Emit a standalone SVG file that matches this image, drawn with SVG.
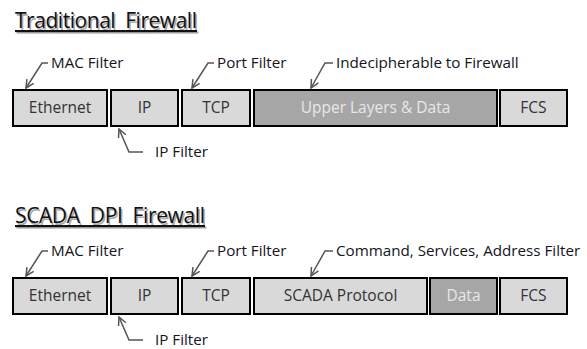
<svg xmlns="http://www.w3.org/2000/svg" width="587" height="349" viewBox="0 0 587 349">
<defs>
<style>
.title{font-family:"Open Sans","Noto Sans",sans-serif;font-size:21px;fill:#111;text-decoration:underline}
.shadow{font-family:"Open Sans","Noto Sans",sans-serif;font-size:21px;fill:#aaa;text-decoration:underline}
.box{stroke:#000;stroke-width:2}
.light{fill:#d9d9d9}
.dark{fill:#a6a6a6}
.bt{font-family:"Open Sans","Noto Sans",sans-serif;font-size:15.5px;fill:#333;text-anchor:middle}
.btl{font-family:"Open Sans","Noto Sans",sans-serif;font-size:15.5px;fill:#e8e8e8;text-anchor:middle}
.lbl{font-family:"Open Sans","Noto Sans",sans-serif;font-size:15.2px;fill:#141422}
.lead{fill:none;stroke:#555;stroke-width:1.5;marker-end:url(#arr)}
</style>
<marker id="arr" viewBox="0 0 10 10" refX="9" refY="5" markerWidth="10" markerHeight="10" markerUnits="userSpaceOnUse" orient="auto">
<path d="M1,1 L9,5 L1,9" fill="none" stroke="#555" stroke-width="1.5"/>
</marker>
</defs>
<g id="title1">
<text class="shadow" x="16.5" y="29.5" textLength="182" xml:space="preserve">Traditional  Firewall</text>
<text class="title" x="15" y="28" textLength="182" xml:space="preserve">Traditional  Firewall</text>
</g>
<g id="title2">
<text class="shadow" x="16.5" y="224.5" textLength="190" xml:space="preserve">SCADA  DPI  Firewall</text>
<text class="title" x="15" y="223" textLength="190" xml:space="preserve">SCADA  DPI  Firewall</text>
</g>
<g id="connectors">
<path class="lead" d="M48,63 L42,63 L26,88"/>
<path class="lead" d="M214,63 L208,63 L192,88"/>
<path class="lead" d="M333,63 L325,63 L311,88"/>
<path class="lead" d="M143,152 L129,152 L119,129"/>
<path class="lead" d="M48,251 L42,251 L26,276"/>
<path class="lead" d="M214,251 L208,251 L192,276"/>
<path class="lead" d="M333,251 L325,251 L311,276"/>
<path class="lead" d="M143,340 L129,340 L119,317"/>
</g>
<g id="labels1">
<text class="lbl" x="51" y="68">MAC Filter</text>
<text class="lbl" x="217" y="68">Port Filter</text>
<text class="lbl" x="336" y="68">Indecipherable to Firewall</text>
<text class="lbl" x="155" y="157">IP Filter</text>
</g>
<g id="labels2">
<text class="lbl" x="51" y="256">MAC Filter</text>
<text class="lbl" x="217" y="256">Port Filter</text>
<text class="lbl" x="336" y="256">Command, Services, Address Filter</text>
<text class="lbl" x="155" y="345">IP Filter</text>
</g>
<g id="eth1"><rect class="box light" x="13" y="90" width="94" height="36"/><text class="bt" x="60" y="113">Ethernet</text></g>
<g id="ip1"><rect class="box light" x="111" y="90" width="67" height="36"/><text class="bt" x="144.5" y="113">IP</text></g>
<g id="tcp1"><rect class="box light" x="182" y="90" width="68" height="36"/><text class="bt" x="216" y="113">TCP</text></g>
<g id="upper1"><rect class="box dark" x="254" y="90" width="243" height="36"/><text class="btl" x="375.5" y="113">Upper Layers &amp; Data</text></g>
<g id="fcs1"><rect class="box light" x="500" y="90" width="67" height="36"/><text class="bt" x="533.5" y="113">FCS</text></g>
<g id="eth2"><rect class="box light" x="13" y="278" width="94" height="36"/><text class="bt" x="60" y="301">Ethernet</text></g>
<g id="ip2"><rect class="box light" x="111" y="278" width="67" height="36"/><text class="bt" x="144.5" y="301">IP</text></g>
<g id="tcp2"><rect class="box light" x="182" y="278" width="68" height="36"/><text class="bt" x="216" y="301">TCP</text></g>
<g id="scada2"><rect class="box light" x="254" y="278" width="173" height="36"/><text class="bt" x="340.5" y="301">SCADA Protocol</text></g>
<g id="data2"><rect class="box dark" x="430" y="278" width="67" height="36"/><text class="btl" x="463.5" y="301">Data</text></g>
<g id="fcs2"><rect class="box light" x="500" y="278" width="67" height="36"/><text class="bt" x="533.5" y="301">FCS</text></g>
</svg>
